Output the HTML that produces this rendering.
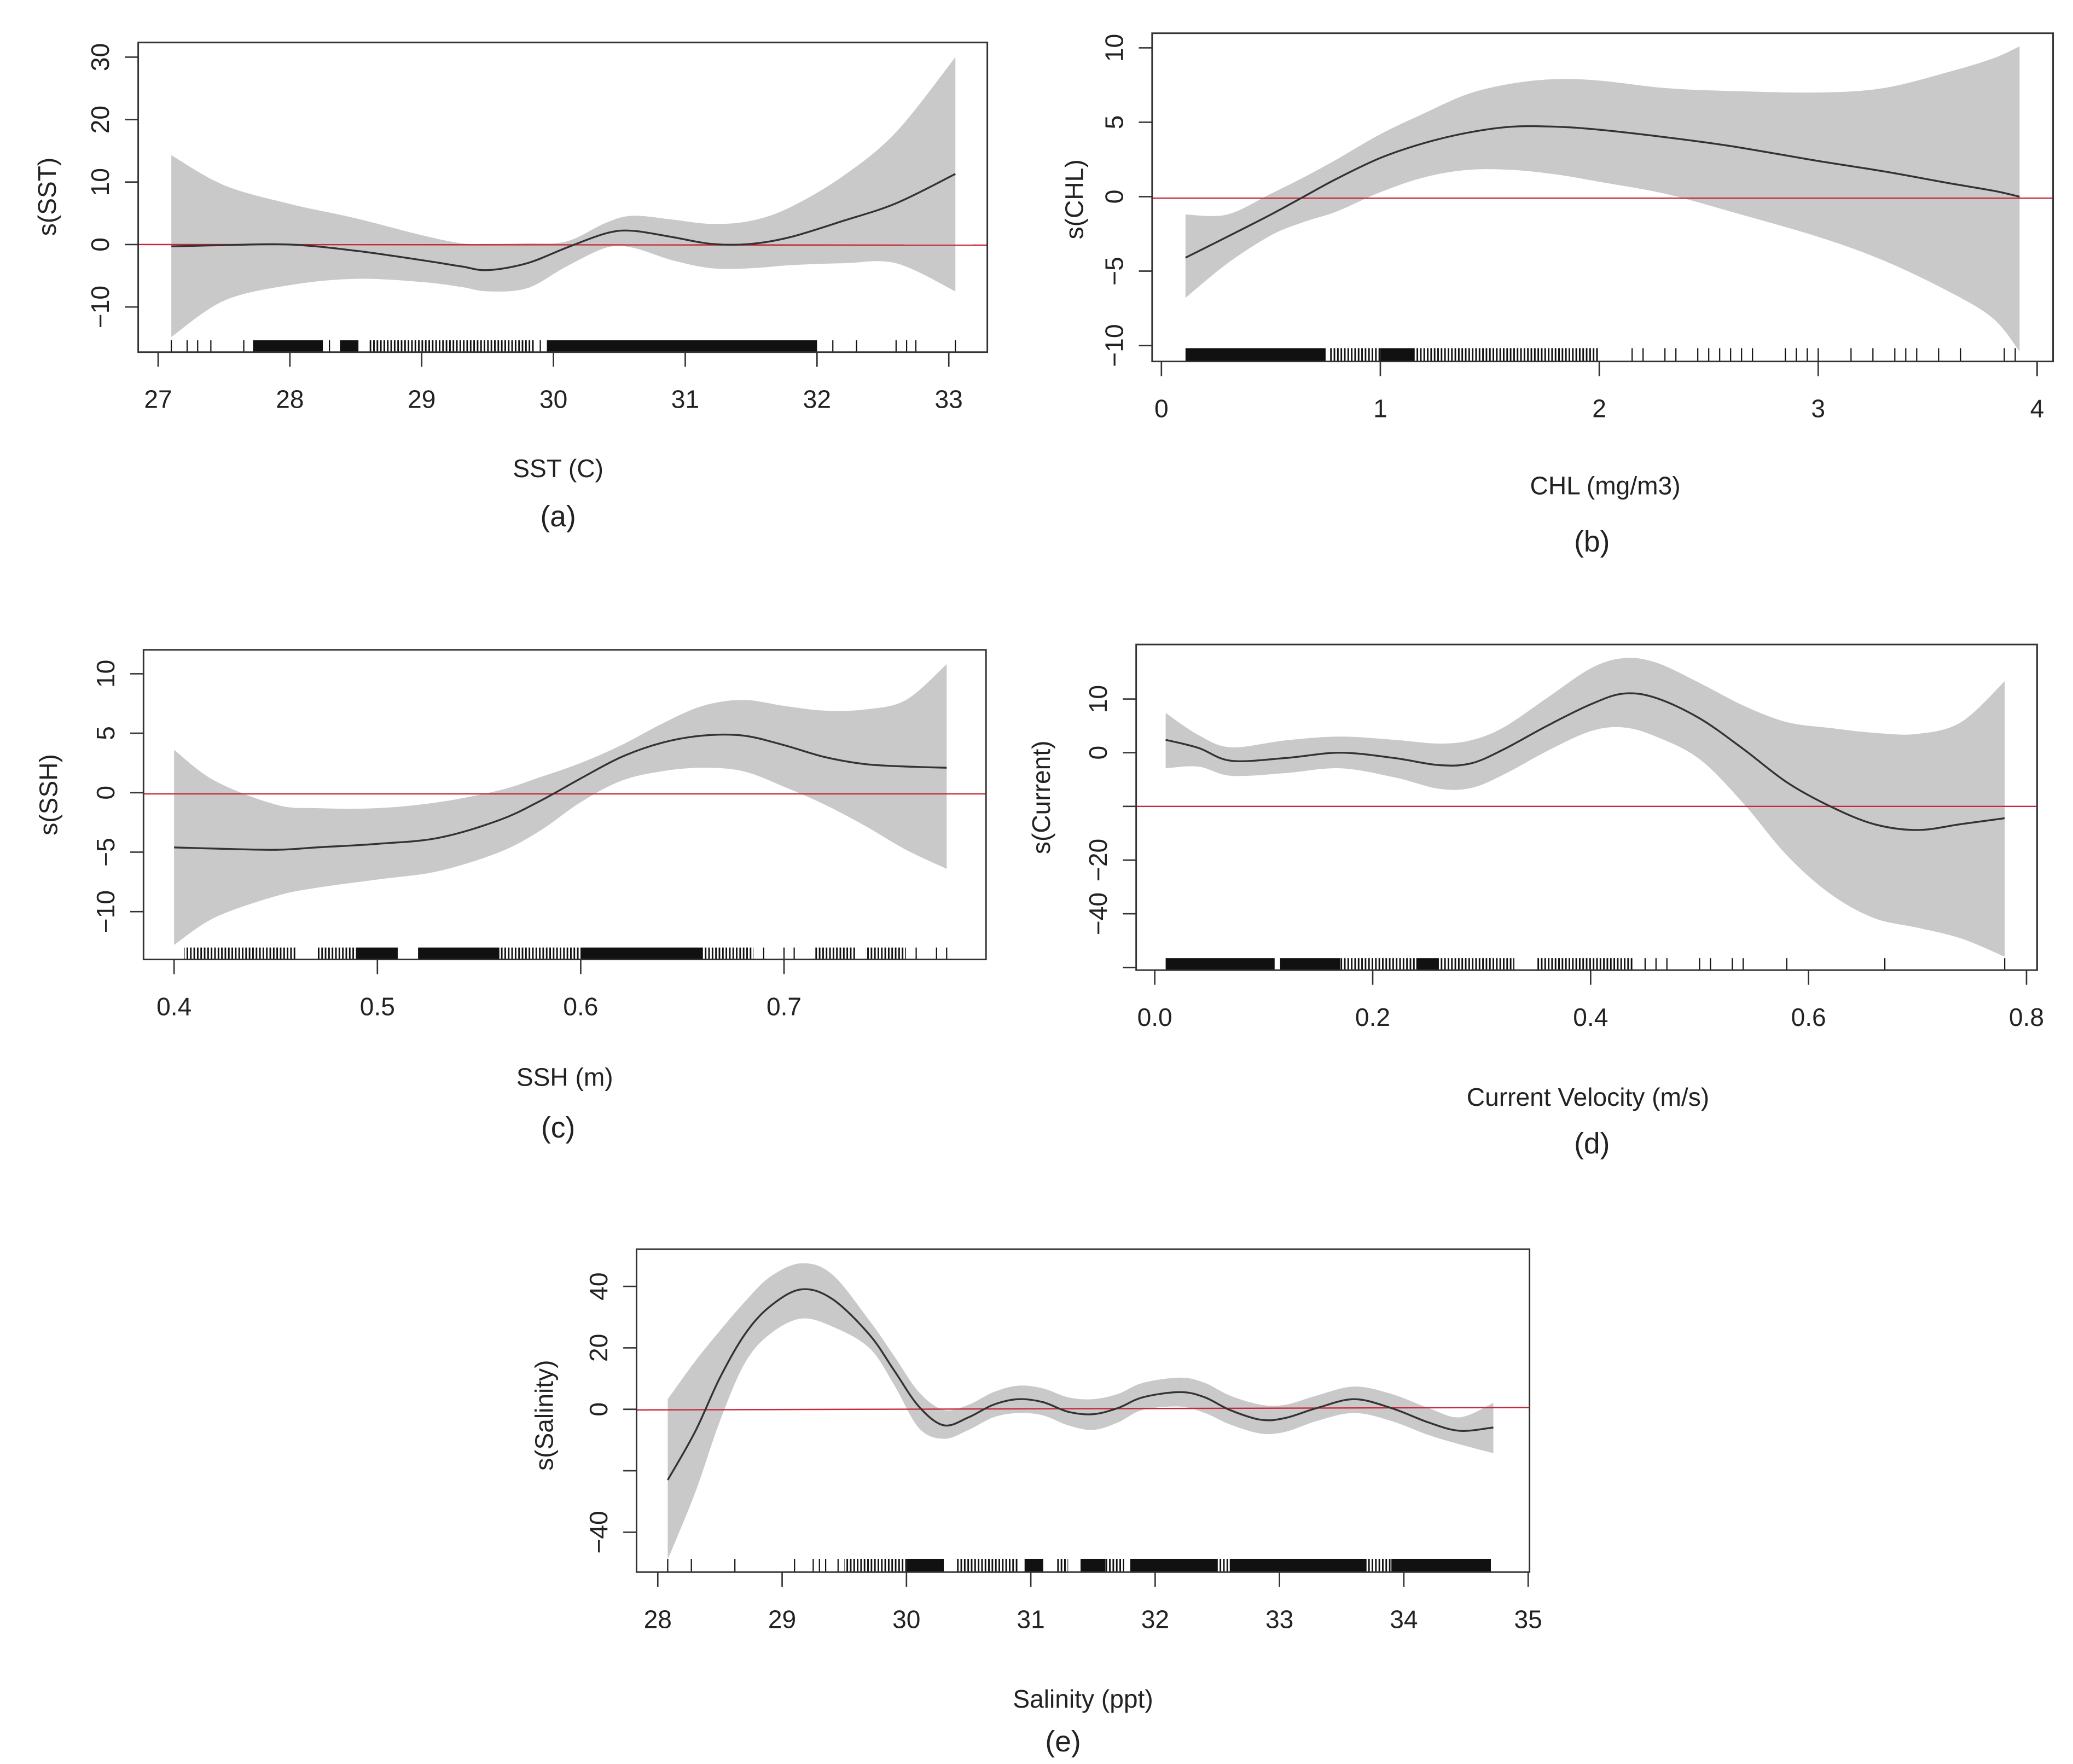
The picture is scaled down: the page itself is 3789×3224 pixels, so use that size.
<!DOCTYPE html>
<html>
<head>
<meta charset="utf-8">
<style>
html,body{margin:0;padding:0;background:#fff;}
svg{display:block;}
text{font-family:"Liberation Sans",Arial,sans-serif;fill:#222;}
</style>
</head>
<body>
<svg id="fig" xmlns="http://www.w3.org/2000/svg" width="3789" height="3224" viewBox="0 0 1560 1327.4" preserveAspectRatio="none">
<defs>
<pattern id="rugpat" patternUnits="userSpaceOnUse" width="2.6" height="20">
<rect x="0" y="0" width="1.2" height="20" fill="#111"/>
</pattern>
</defs>
<rect x="0" y="0" width="1560" height="1327.4" fill="#fff"/>
</svg>
<script>
// ---------- Panel (a) SST ----------
const A_x = [27.1,27.5,28,28.5,29,29.3,29.5,29.8,30.1,30.4,30.6,30.9,31.2,31.5,31.8,32.2,32.6,33.05];
const A_fit = [-0.3,-0.1,0,-1,-2.5,-3.5,-4.1,-3,-0.5,1.8,2.2,1.2,0.1,0.1,1.2,3.8,6.6,11.3];
const A_upper = [14.3,9.5,6.5,4.2,1.5,0.2,0.1,0.2,0.5,3.5,4.6,4,3.3,3.8,6,11,18,30];
const A_lower = [-14.8,-9,-6.5,-5.5,-6,-6.8,-7.5,-7,-3.5,-0.5,-0.5,-2.5,-3.8,-3.8,-3.3,-3,-3,-7.5];
const A_xticks = [27,28,29,30,31,32,33];
const A_xtickLabels = ["27","28","29","30","31","32","33"];
const A_yticks = [30,20,10,0,-10];
const A_ytickLabels = ["30","20","10","0","\u221210"];
const A_rugDense = [[27.72,28.25],[28.38,28.52],[29.95,32.0]];
const A_rugMed = [[28.6,29.85]];
const A_rugTicks = [27.1,27.22,27.3,27.4,27.65,28.3,29.9,32.12,32.3,32.6,32.68,32.75,33.05];

// ---------- Panel (b) CHL ----------
const B_x = [0.11,0.3,0.5,0.65,0.8,1.0,1.2,1.4,1.6,1.8,2.0,2.3,2.6,3.0,3.3,3.6,3.8,3.92];
const B_fit = [-4.1,-2.7,-1.2,0,1.2,2.6,3.6,4.3,4.7,4.7,4.5,4.0,3.4,2.4,1.7,0.9,0.4,0];
const B_upper = [-1.2,-1.2,0.2,1.3,2.5,4.2,5.6,6.9,7.6,7.9,7.8,7.3,7.1,7.0,7.3,8.4,9.3,10.1];
const B_lower = [-6.8,-4.5,-2.6,-1.7,-1,0.3,1.3,1.8,1.8,1.5,1.0,0.2,-1,-2.7,-4.3,-6.4,-8.2,-10.4];
const B_xticks = [0,1,2,3,4];
const B_xtickLabels = ["0","1","2","3","4"];
const B_yticks = [10,5,0,-5,-10];
const B_ytickLabels = ["10","5","0","\u22125","\u221210"];
const B_rugDense = [[0.11,0.75],[1.0,1.15]];
const B_rugMed = [[0.77,1.0],[1.15,1.55],[1.55,2.0]];
const B_rugTicks = [2.15,2.2,2.3,2.35,2.45,2.5,2.55,2.6,2.65,2.7,2.85,2.9,2.95,3.0,3.15,3.25,3.35,3.4,3.45,3.55,3.65,3.85,3.9];

// ---------- Panel (c) SSH ----------
const C_x = [0.4,0.42,0.45,0.47,0.5,0.53,0.56,0.58,0.6,0.62,0.64,0.66,0.68,0.7,0.72,0.74,0.76,0.78];
const C_fit = [-4.6,-4.7,-4.8,-4.6,-4.3,-3.8,-2.3,-0.7,1.2,3.0,4.2,4.8,4.8,4.0,3.0,2.4,2.2,2.1];
const C_upper = [3.6,1.0,-1.0,-1.3,-1.3,-0.8,0.2,1.3,2.5,4.0,5.8,7.3,7.8,7.3,6.9,7.0,7.8,10.8];
const C_lower = [-12.8,-10.5,-8.7,-8,-7.3,-6.6,-5,-3.2,-0.8,1.0,1.8,2.1,1.8,0.5,-1,-2.8,-4.8,-6.4];
const C_xticks = [0.4,0.5,0.6,0.7];
const C_xtickLabels = ["0.4","0.5","0.6","0.7"];
const C_yticks = [10,5,0,-5,-10];
const C_ytickLabels = ["10","5","0","\u22125","\u221210"];
const C_rugDense = [[0.49,0.51],[0.52,0.56],[0.6,0.66]];
const C_rugMed = [[0.405,0.46],[0.47,0.49],[0.56,0.6],[0.66,0.685],[0.715,0.735],[0.74,0.76]];
const C_rugTicks = [0.69,0.7,0.705,0.765,0.775,0.78];

// ---------- Panel (d) Current ----------
const D_x = [0.01,0.04,0.07,0.12,0.17,0.22,0.26,0.29,0.32,0.36,0.4,0.43,0.46,0.5,0.54,0.58,0.62,0.66,0.7,0.74,0.78];
const D_fit = [2.4,0.9,-1.5,-1,0,-1,-2.3,-2,0.6,5,9,11,10.2,6.4,0.7,-5.5,-10,-13.3,-14.4,-13.3,-12.2];
const D_upper = [7.4,3.3,1,2.3,3,2.4,1.7,2.3,4.7,10.2,15.7,17.6,16.8,13,8.8,5.7,4.6,3.7,3.5,5.7,13.3];
const D_lower = [-2.9,-2.6,-4.3,-3.8,-2.9,-4.6,-6.7,-6.6,-4.1,0.3,4,4.7,3,-1.2,-9.4,-19.1,-26.3,-30.8,-32.6,-34.6,-38];
const D_xticks = [0.0,0.2,0.4,0.6,0.8];
const D_xtickLabels = ["0.0","0.2","0.4","0.6","0.8"];
const D_yticks = [10,0,-10,-20,-30,-40];
const D_ytickLabels = ["10","0","","\u221220","\u221240",""];
const D_rugDense = [[0.01,0.11],[0.115,0.17],[0.24,0.26]];
const D_rugMed = [[0.17,0.24],[0.26,0.33],[0.35,0.44]];
const D_rugTicks = [0.45,0.46,0.47,0.5,0.51,0.53,0.54,0.58,0.67,0.78];

// ---------- Panel (e) Salinity ----------
const E_x = [28.08,28.3,28.5,28.7,28.9,29.15,29.4,29.7,29.9,30.1,30.3,30.5,30.7,30.9,31.1,31.3,31.5,31.7,31.9,32.2,32.4,32.6,32.85,33.05,33.3,33.6,33.9,34.2,34.45,34.72];
const E_fit = [-23,-7.3,10.3,24.4,33.4,39,36,24.4,12.7,0.9,-5.2,-2.6,1.5,3.3,2.3,-0.8,-1.6,0.4,3.9,5.6,3.9,-0.2,-3.4,-2.8,0.4,3.3,0.4,-4.3,-7,-5.9];
const E_upper = [3.3,15.6,25.6,35,43,47.5,44,29,17.4,5.6,-0.2,1.5,5.6,7.7,6.8,3.9,3.3,5,8.6,10.3,8.6,4.5,1.5,1.5,4.5,7.4,5,0.4,-2.6,2.1];
const E_lower = [-48.9,-27.2,-3.8,15,24.4,29.5,27,20,8,-6.1,-9.6,-6.7,-2.6,-1.2,-2,-5.2,-6.7,-4.3,-0.2,0.9,-1.2,-4.9,-7.9,-7.3,-3.8,-1.2,-3.8,-8.4,-11.4,-14.3];
const E_xticks = [28,29,30,31,32,33,34,35];
const E_xtickLabels = ["28","29","30","31","32","33","34","35"];
const E_yticks = [40,20,0,-20,-40];
const E_ytickLabels = ["40","20","0","","\u221240"];
const E_rugDense = [[30.0,30.3],[30.95,31.1],[31.4,31.6],[31.8,32.5],[32.6,33.7],[33.9,34.7]];
const E_rugMed = [[29.5,30.0],[30.4,30.9],[31.2,31.3],[31.6,31.75],[32.5,32.6],[33.7,33.9]];
const E_rugTicks = [28.08,28.27,28.62,29.1,29.25,29.3,29.35,29.45];

const NS = "http://www.w3.org/2000/svg";
const svg = document.getElementById('fig');

function mk(parent, tag, attrs, txt){
  const el = document.createElementNS(NS, tag);
  for (const k in attrs) el.setAttribute(k, attrs[k]);
  if (txt !== undefined) el.textContent = txt;
  parent.appendChild(el);
  return el;
}

function smooth(pts){
  let d = "M" + pts[0][0].toFixed(2) + "," + pts[0][1].toFixed(2);
  for (let i = 0; i < pts.length - 1; i++){
    const p0 = pts[Math.max(0,i-1)], p1 = pts[i], p2 = pts[i+1], p3 = pts[Math.min(pts.length-1,i+2)];
    const c1x = p1[0] + (p2[0]-p0[0])/6, c1y = p1[1] + (p2[1]-p0[1])/6;
    const c2x = p2[0] - (p3[0]-p1[0])/6, c2y = p2[1] - (p3[1]-p1[1])/6;
    d += " C" + c1x.toFixed(2)+","+c1y.toFixed(2)+" "+c2x.toFixed(2)+","+c2y.toFixed(2)+" "+p2[0].toFixed(2)+","+p2[1].toFixed(2);
  }
  return d;
}

function drawPanel(P, X, FIT, UP, LO, XT, XTL, YT, YTL, RD, RM, RT){
  const sx = v => P.xp0 + (v - P.xv0) * (P.xp1 - P.xp0) / (P.xv1 - P.xv0);
  const sy = v => P.yp0 + (v - P.yv0) * (P.yp1 - P.yp0) / (P.yv1 - P.yv0);
  const g = mk(svg, 'g', {});
  
  

  const up = X.map((x,i) => [sx(x), sy(UP[i])]);
  const lo = X.map((x,i) => [sx(x), sy(LO[i])]).reverse();
  const bd = smooth(up) + " L" + lo[0][0].toFixed(2) + "," + lo[0][1].toFixed(2) + smooth(lo).replace(/^M[^C]*/, " ") + " Z";
  const band = mk(g, 'path', {d: bd, fill: '#c9c9c9', stroke: 'none'});
  
  

  const red = mk(g, 'line', {x1: P.bx0, x2: P.bx1, y1: sy(P.redL), y2: sy(P.redR), stroke: '#c8283a', 'stroke-width': 1});
  
  

  const fp = X.map((x,i) => [sx(x), sy(FIT[i])]);
  const fit = mk(g, 'path', {d: smooth(fp), fill: 'none', stroke: '#333', 'stroke-width': 1.4});
  
  

  const rug = mk(g, 'g', {});
  
  
  RD.forEach(r => {
    const e = mk(rug, 'rect', {x: sx(r[0]), y: P.rugTop, width: Math.max(0.8, sx(r[1]) - sx(r[0])), height: P.by1 - P.rugTop, fill: '#111'});
    
    
  });
  RM.forEach(r => {
    const e = mk(rug, 'rect', {x: sx(r[0]), y: P.rugTop, width: Math.max(0.8, sx(r[1]) - sx(r[0])), height: P.by1 - P.rugTop, fill: 'url(#rugpat)'});
    
    
  });
  RT.forEach(t => {
    const e = mk(rug, 'line', {x1: sx(t), x2: sx(t), y1: P.rugTop, y2: P.by1, stroke: '#111', 'stroke-width': 0.9});
    
    
  });

  const box = mk(g, 'rect', {x: P.bx0, y: P.by0, width: P.bx1 - P.bx0, height: P.by1 - P.by0, fill: 'none', stroke: '#333', 'stroke-width': 1.2});
  
  

  const xa = mk(g, 'g', {});
  
  
  XT.forEach((t,i) => {
    const px = sx(t);
    const tk = mk(xa, 'line', {x1: px, x2: px, y1: P.by1, y2: P.by1 + 11, stroke: '#333', 'stroke-width': 1.1});
    
    
    const lb = mk(xa, 'text', {x: px, y: P.by1 + 42, 'font-size': 19, 'text-anchor': 'middle'}, XTL[i]);
    
    
  });

  const ya = mk(g, 'g', {});
  
  
  YT.forEach((t,i) => {
    const py = sy(t);
    const tk = mk(ya, 'line', {x1: P.bx0 - 10, x2: P.bx0, y1: py, y2: py, stroke: '#333', 'stroke-width': 1.1});
    
    
    if (YTL[i] !== ""){
      const lx = P.bx0 - 22;
      const lb = mk(ya, 'text', {x: lx, y: py, 'font-size': 19, 'text-anchor': 'middle', transform: 'rotate(-90 ' + lx + ' ' + py + ')'}, YTL[i]);
      
      
    }
  });

  const yt = mk(g, 'text', {x: P.ytx, y: P.yty, 'font-size': 19, 'text-anchor': 'middle', transform: 'rotate(-90 ' + P.ytx + ' ' + P.yty + ')'}, P.ytitle);
  
  
  const xt = mk(g, 'text', {x: P.xtx, y: P.xty, 'font-size': 19, 'text-anchor': 'middle'}, P.xtitle);
  
  
  const cap = mk(g, 'text', {x: P.capx, y: P.capy, 'font-size': 22, 'text-anchor': 'middle'}, '(' + P.id + ')');
  
  
}

drawPanel({id:'a', bx0:104, bx1:743, by0:32, by1:265, xv0:27, xp0:119, xv1:33, xp1:714, yv0:30, yp0:43, yv1:-10, yp1:231,
  redL:0, redR:-0.1, rugTop:256, ytitle:'s(SST)', ytx:42, yty:148, xtitle:'SST (C)', xtx:420, xty:359, capx:420, capy:396},
  A_x, A_fit, A_upper, A_lower, A_xticks, A_xtickLabels, A_yticks, A_ytickLabels, A_rugDense, A_rugMed, A_rugTicks);

drawPanel({id:'b', bx0:867, bx1:1545, by0:25, by1:272, xv0:0, xp0:874, xv1:4, xp1:1533, yv0:10, yp0:36, yv1:-10, yp1:260,
  redL:-0.1, redR:-0.1, rugTop:262, ytitle:'s(CHL)', ytx:815, yty:150, xtitle:'CHL (mg/m3)', xtx:1208, xty:372, capx:1198, capy:415},
  B_x, B_fit, B_upper, B_lower, B_xticks, B_xtickLabels, B_yticks, B_ytickLabels, B_rugDense, B_rugMed, B_rugTicks);

drawPanel({id:'c', bx0:108, bx1:742, by0:489, by1:722, xv0:0.4, xp0:131, xv1:0.7, xp1:590, yv0:10, yp0:507, yv1:-10, yp1:686,
  redL:-0.1, redR:-0.1, rugTop:713, ytitle:'s(SSH)', ytx:43, yty:598, xtitle:'SSH (m)', xtx:425, xty:817, capx:420, capy:856},
  C_x, C_fit, C_upper, C_lower, C_xticks, C_xtickLabels, C_yticks, C_ytickLabels, C_rugDense, C_rugMed, C_rugTicks);

drawPanel({id:'d', bx0:855, bx1:1533, by0:485, by1:730, xv0:0, xp0:869, xv1:0.8, xp1:1525, yv0:10, yp0:526, yv1:-40, yp1:728,
  redL:-10, redR:-10, rugTop:721, ytitle:'s(Current)', ytx:790, yty:600, xtitle:'Current Velocity (m/s)', xtx:1195, xty:832, capx:1198, capy:868},
  D_x, D_fit, D_upper, D_lower, D_xticks, D_xtickLabels, D_yticks, D_ytickLabels, D_rugDense, D_rugMed, D_rugTicks);

drawPanel({id:'e', bx0:479, bx1:1151, by0:940, by1:1183, xv0:28, xp0:495, xv1:35, xp1:1150, yv0:40, yp0:968, yv1:-40, yp1:1153,
  redL:-0.2, redR:0.6, rugTop:1173, ytitle:'s(Salinity)', ytx:416, yty:1065, xtitle:'Salinity (ppt)', xtx:815, xty:1285, capx:800, capy:1318},
  E_x, E_fit, E_upper, E_lower, E_xticks, E_xtickLabels, E_yticks, E_ytickLabels, E_rugDense, E_rugMed, E_rugTicks);
</script>
</body>
</html>
